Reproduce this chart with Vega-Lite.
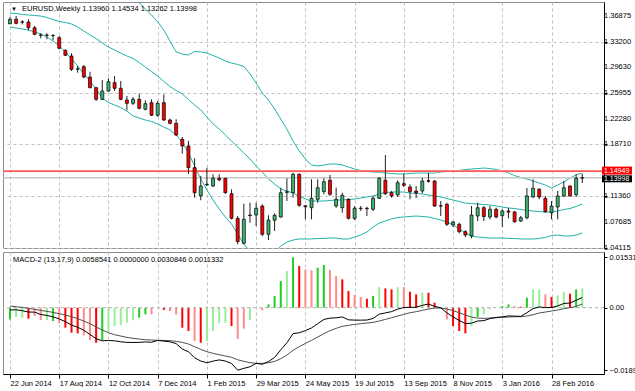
{
"$schema": "https://vega.github.io/schema/vega-lite/v6.json",
"background": "#ffffff",
"padding": {"left": 1, "top": 1, "right": 0, "bottom": 0},
"spacing": 4,
"bounds": "flush",
"config": {
  "view": {"stroke": "#8c8c8c", "strokeWidth": 1},
  "font": "Liberation Sans",
  "axis": {"labelFont": "Liberation Sans", "labelFontSize": 7.5, "labelColor": "#000000", "domainColor": "#000000", "tickColor": "#000000", "tickSize": 3, "title": null, "labelOverlap": false}
},
"datasets": {
  "axisLabels": [
    {"p": 1.36875, "t": "1.36875"}, {"p": 1.332, "t": "1.33200"}, {"p": 1.2963, "t": "1.29630"}, {"p": 1.25955, "t": "1.25955"},
    {"p": 1.2228, "t": "1.22280"}, {"p": 1.1871, "t": "1.18710"}, {"p": 1.1136, "t": "1.11360"}, {"p": 1.07685, "t": "1.07685"}, {"p": 1.04115, "t": "1.04115"}
  ]
},
"data": {"values": [
{"d":"2014-06-22","o":1.3579,"h":1.3673,"l":1.3570,"c":1.3641,"bu":1.3942,"bm":1.3730,"bl":1.3532,"m":-0.00068,"s":0.00051,"hi":-0.00355,"hc":"G"},
{"d":"2014-06-29","o":1.3641,"h":1.3688,"l":1.3570,"c":1.3584,"bu":1.3942,"bm":1.3723,"bl":1.3518,"m":-0.00064,"s":0.00030,"hi":-0.00284,"hc":"g"},
{"d":"2014-07-06","o":1.3600,"h":1.3627,"l":1.3570,"c":1.3605,"bu":1.3935,"bm":1.3709,"bl":1.3504,"m":-0.00091,"s":0.00010,"hi":-0.00304,"hc":"g"},
{"d":"2014-07-13","o":1.3603,"h":1.3641,"l":1.3485,"c":1.3522,"bu":1.3928,"bm":1.3702,"bl":1.3490,"m":-0.00132,"s":-0.00020,"hi":-0.00334,"hc":"R"},
{"d":"2014-07-20","o":1.3522,"h":1.3546,"l":1.3415,"c":1.3429,"bu":1.3928,"bm":1.3695,"bl":1.3461,"m":-0.00135,"s":-0.00051,"hi":-0.00253,"hc":"r"},
{"d":"2014-07-27","o":1.3420,"h":1.3443,"l":1.3372,"c":1.3415,"bu":1.3942,"bm":1.3687,"bl":1.3433,"m":-0.00206,"s":-0.00081,"hi":-0.00375,"hc":"r"},
{"d":"2014-08-03","o":1.3419,"h":1.3443,"l":1.3358,"c":1.3415,"bu":1.3956,"bm":1.3666,"bl":1.3391,"m":-0.00236,"s":-0.00111,"hi":-0.00375,"hc":"g"},
{"d":"2014-08-10","o":1.3413,"h":1.3429,"l":1.3344,"c":1.3410,"bu":1.3970,"bm":1.3638,"bl":1.3334,"m":-0.00277,"s":-0.00142,"hi":-0.00405,"hc":"G"},
{"d":"2014-08-17","o":1.3381,"h":1.3405,"l":1.3217,"c":1.3231,"bu":1.3984,"bm":1.3610,"bl":1.3263,"m":-0.00341,"s":-0.00182,"hi":-0.00476,"hc":"r"},
{"d":"2014-08-24","o":1.3203,"h":1.3217,"l":1.3122,"c":1.3132,"bu":1.3999,"bm":1.3596,"bl":1.3179,"m":-0.00425,"s":-0.00223,"hi":-0.00608,"hc":"R"},
{"d":"2014-08-31","o":1.3122,"h":1.3160,"l":1.2910,"c":1.2934,"bu":1.4013,"bm":1.3574,"bl":1.3080,"m":-0.00527,"s":-0.00274,"hi":-0.00760,"hc":"R"},
{"d":"2014-09-07","o":1.2936,"h":1.2981,"l":1.2886,"c":1.2940,"bu":1.4027,"bm":1.3532,"bl":1.2981,"m":-0.00595,"s":-0.00334,"hi":-0.00780,"hc":"R"},
{"d":"2014-09-14","o":1.2971,"h":1.2995,"l":1.2807,"c":1.2825,"bu":1.4041,"bm":1.3475,"bl":1.2867,"m":-0.00686,"s":-0.00405,"hi":-0.00841,"hc":"r"},
{"d":"2014-09-21","o":1.2825,"h":1.2900,"l":1.2665,"c":1.2674,"bu":1.4041,"bm":1.3419,"bl":1.2769,"m":-0.00813,"s":-0.00486,"hi":-0.00983,"hc":"r"},
{"d":"2014-09-28","o":1.2674,"h":1.2684,"l":1.2486,"c":1.2510,"bu":1.4027,"bm":1.3369,"bl":1.2655,"m":-0.00942,"s":-0.00588,"hi":-0.01064,"hc":"R"},
{"d":"2014-10-05","o":1.2510,"h":1.2783,"l":1.2500,"c":1.2627,"bu":1.4013,"bm":1.3306,"bl":1.2528,"m":-0.01006,"s":-0.00679,"hi":-0.00983,"hc":"G"},
{"d":"2014-10-12","o":1.2627,"h":1.2807,"l":1.2617,"c":1.2759,"bu":1.3999,"bm":1.3249,"bl":1.2465,"m":-0.00996,"s":-0.00760,"hi":-0.00709,"hc":"g"},
{"d":"2014-10-19","o":1.2745,"h":1.2839,"l":1.2627,"c":1.2665,"bu":1.3984,"bm":1.3207,"bl":1.2429,"m":-0.01006,"s":-0.00821,"hi":-0.00557,"hc":"g"},
{"d":"2014-10-26","o":1.2665,"h":1.2769,"l":1.2496,"c":1.2510,"bu":1.3970,"bm":1.3164,"bl":1.2394,"m":-0.01036,"s":-0.00861,"hi":-0.00527,"hc":"g"},
{"d":"2014-11-02","o":1.2500,"h":1.2557,"l":1.2354,"c":1.2453,"bu":1.3956,"bm":1.3122,"bl":1.2344,"m":-0.01054,"s":-0.00902,"hi":-0.00456,"hc":"g"},
{"d":"2014-11-09","o":1.2453,"h":1.2542,"l":1.2429,"c":1.2510,"bu":1.3928,"bm":1.3087,"bl":1.2274,"m":-0.01057,"s":-0.00932,"hi":-0.00375,"hc":"g"},
{"d":"2014-11-16","o":1.2510,"h":1.2589,"l":1.2368,"c":1.2383,"bu":1.3878,"bm":1.3030,"bl":1.2245,"m":-0.01054,"s":-0.00952,"hi":-0.00304,"hc":"G"},
{"d":"2014-11-23","o":1.2368,"h":1.2496,"l":1.2354,"c":1.2448,"bu":1.3786,"bm":1.2966,"bl":1.2217,"m":-0.01040,"s":-0.00972,"hi":-0.00203,"hc":"G"},
{"d":"2014-11-30","o":1.2462,"h":1.2510,"l":1.2274,"c":1.2284,"bu":1.3702,"bm":1.2903,"bl":1.2196,"m":-0.01050,"s":-0.00983,"hi":-0.00203,"hc":"r"},
{"d":"2014-12-07","o":1.2284,"h":1.2486,"l":1.2264,"c":1.2453,"bu":1.3603,"bm":1.2839,"bl":1.2161,"m":-0.00993,"s":-0.00993,"hi":0.0,"hc":"g"},
{"d":"2014-12-14","o":1.2462,"h":1.2580,"l":1.2203,"c":1.2217,"bu":1.3490,"bm":1.2762,"bl":1.2118,"m":-0.01016,"s":-0.00993,"hi":-0.00071,"hc":"R"},
{"d":"2014-12-21","o":1.2217,"h":1.2236,"l":1.2156,"c":1.2170,"bu":1.3334,"bm":1.2691,"bl":1.2076,"m":-0.01036,"s":-0.01003,"hi":-0.00101,"hc":"r"},
{"d":"2014-12-28","o":1.2170,"h":1.2227,"l":1.1991,"c":1.2005,"bu":1.3179,"bm":1.2634,"bl":1.2005,"m":-0.01091,"s":-0.01023,"hi":-0.00203,"hc":"r"},
{"d":"2015-01-04","o":1.1944,"h":1.1977,"l":1.1741,"c":1.1850,"bu":1.3150,"bm":1.2585,"bl":1.1906,"m":-0.01256,"s":-0.01054,"hi":-0.00608,"hc":"R"},
{"d":"2015-01-11","o":1.1850,"h":1.1920,"l":1.1454,"c":1.1543,"bu":1.3136,"bm":1.2507,"bl":1.1751,"m":-0.01340,"s":-0.01104,"hi":-0.00709,"hc":"R"},
{"d":"2015-01-18","o":1.1543,"h":1.1676,"l":1.1119,"c":1.1189,"bu":1.3186,"bm":1.2429,"bl":1.1567,"m":-0.01523,"s":-0.01185,"hi":-0.01013,"hc":"r"},
{"d":"2015-01-25","o":1.1143,"h":1.1425,"l":1.1082,"c":1.1284,"bu":1.3179,"bm":1.2359,"bl":1.1383,"m":-0.01621,"s":-0.01266,"hi":-0.01064,"hc":"R"},
{"d":"2015-02-01","o":1.1300,"h":1.1543,"l":1.1284,"c":1.1308,"bu":1.3164,"bm":1.2260,"bl":1.1228,"m":-0.01674,"s":-0.01337,"hi":-0.01013,"hc":"g"},
{"d":"2015-02-08","o":1.1284,"h":1.1449,"l":1.1270,"c":1.1393,"bu":1.3129,"bm":1.2161,"bl":1.1086,"m":-0.01624,"s":-0.01388,"hi":-0.00709,"hc":"g"},
{"d":"2015-02-15","o":1.1393,"h":1.1449,"l":1.1355,"c":1.1369,"bu":1.3094,"bm":1.2090,"bl":1.0959,"m":-0.01587,"s":-0.01428,"hi":-0.00476,"hc":"g"},
{"d":"2015-02-22","o":1.1393,"h":1.1401,"l":1.1175,"c":1.1189,"bu":1.3051,"bm":1.2005,"bl":1.0846,"m":-0.01621,"s":-0.01469,"hi":-0.00456,"hc":"g"},
{"d":"2015-03-01","o":1.1175,"h":1.1237,"l":1.0813,"c":1.0827,"bu":1.3023,"bm":1.1920,"bl":1.0747,"m":-0.01695,"s":-0.01509,"hi":-0.00557,"hc":"R"},
{"d":"2015-03-08","o":1.0827,"h":1.0860,"l":1.0460,"c":1.0497,"bu":1.3002,"bm":1.1835,"bl":1.0605,"m":-0.01900,"s":-0.01583,"hi":-0.00950,"hc":"r"},
{"d":"2015-03-15","o":1.0474,"h":1.1034,"l":1.0460,"c":1.0813,"bu":1.2974,"bm":1.1751,"bl":1.0464,"m":-0.01844,"s":-0.01631,"hi":-0.00638,"hc":"r"},
{"d":"2015-03-22","o":1.0866,"h":1.1048,"l":1.0765,"c":1.0874,"bu":1.2868,"bm":1.1666,"bl":1.0365,"m":-0.01796,"s":-0.01671,"hi":-0.00375,"hc":"g"},
{"d":"2015-03-29","o":1.0874,"h":1.1048,"l":1.0718,"c":1.0969,"bu":1.2740,"bm":1.1567,"bl":1.0252,"m":-0.01692,"s":-0.01692,"hi":0.0,"hc":"g"},
{"d":"2015-04-05","o":1.1001,"h":1.1025,"l":1.0577,"c":1.0601,"bu":1.2599,"bm":1.1482,"bl":1.0195,"m":-0.01719,"s":-0.01692,"hi":-0.00081,"hc":"r"},
{"d":"2015-04-12","o":1.0601,"h":1.0870,"l":1.0521,"c":1.0803,"bu":1.2500,"bm":1.1383,"bl":1.0224,"m":-0.01638,"s":-0.01671,"hi":0.00101,"hc":"G"},
{"d":"2015-04-19","o":1.0800,"h":1.0898,"l":1.0648,"c":1.0870,"bu":1.2373,"bm":1.1312,"bl":1.0337,"m":-0.01512,"s":-0.01631,"hi":0.00355,"hc":"G"},
{"d":"2015-04-26","o":1.0846,"h":1.1260,"l":1.0836,"c":1.1189,"bu":1.2231,"bm":1.1242,"bl":1.0436,"m":-0.01279,"s":-0.01550,"hi":0.00810,"hc":"G"},
{"d":"2015-05-03","o":1.1195,"h":1.1393,"l":1.1072,"c":1.1203,"bu":1.2090,"bm":1.1213,"bl":1.0492,"m":-0.01067,"s":-0.01438,"hi":0.01114,"hc":"g"},
{"d":"2015-05-10","o":1.1189,"h":1.1472,"l":1.1119,"c":1.1449,"bu":1.1920,"bm":1.1185,"bl":1.0520,"m":-0.00786,"s":-0.01297,"hi":0.015318,"hc":"G"},
{"d":"2015-05-17","o":1.1449,"h":1.1464,"l":1.0991,"c":1.1011,"bu":1.1779,"bm":1.1143,"bl":1.0535,"m":-0.00763,"s":-0.01185,"hi":0.01266,"hc":"R"},
{"d":"2015-05-24","o":1.1005,"h":1.1010,"l":1.0813,"c":1.0990,"bu":1.1666,"bm":1.1100,"bl":1.0535,"m":-0.00696,"s":-0.01084,"hi":0.01165,"hc":"r"},
{"d":"2015-05-31","o":1.0977,"h":1.1379,"l":1.0813,"c":1.1110,"bu":1.1581,"bm":1.1072,"bl":1.0535,"m":-0.00615,"s":-0.00993,"hi":0.01135,"hc":"r"},
{"d":"2015-06-07","o":1.1095,"h":1.1379,"l":1.1048,"c":1.1260,"bu":1.1567,"bm":1.1072,"bl":1.0542,"m":-0.00486,"s":-0.00891,"hi":0.01216,"hc":"G"},
{"d":"2015-06-14","o":1.1204,"h":1.1393,"l":1.1167,"c":1.1345,"bu":1.1581,"bm":1.1072,"bl":1.0542,"m":-0.00358,"s":-0.00790,"hi":0.01297,"hc":"G"},
{"d":"2015-06-21","o":1.1365,"h":1.1440,"l":1.1143,"c":1.1167,"bu":1.1595,"bm":1.1079,"bl":1.0549,"m":-0.00317,"s":-0.00699,"hi":0.01145,"hc":"r"},
{"d":"2015-06-28","o":1.1001,"h":1.1260,"l":1.0977,"c":1.1096,"bu":1.1595,"bm":1.1086,"bl":1.0549,"m":-0.00307,"s":-0.00628,"hi":0.00962,"hc":"r"},
{"d":"2015-07-05","o":1.0977,"h":1.1189,"l":1.0907,"c":1.1153,"bu":1.1581,"bm":1.1086,"bl":1.0535,"m":-0.00281,"s":-0.00567,"hi":0.00861,"hc":"R"},
{"d":"2015-07-12","o":1.1096,"h":1.1110,"l":1.0813,"c":1.0827,"bu":1.1553,"bm":1.1093,"bl":1.0535,"m":-0.00368,"s":-0.00537,"hi":0.00507,"hc":"R"},
{"d":"2015-07-19","o":1.0827,"h":1.1001,"l":1.0803,"c":1.0969,"bu":1.1524,"bm":1.1100,"bl":1.0563,"m":-0.00378,"s":-0.00507,"hi":0.00385,"hc":"r"},
{"d":"2015-07-26","o":1.0965,"h":1.1001,"l":1.0931,"c":1.0970,"bu":1.1503,"bm":1.1114,"bl":1.0591,"m":-0.00378,"s":-0.00486,"hi":0.00324,"hc":"r"},
{"d":"2015-08-02","o":1.0970,"h":1.0991,"l":1.0860,"c":1.0963,"bu":1.1489,"bm":1.1129,"bl":1.0634,"m":-0.00375,"s":-0.00466,"hi":0.00274,"hc":"R"},
{"d":"2015-08-09","o":1.0955,"h":1.1143,"l":1.0931,"c":1.1110,"bu":1.1482,"bm":1.1143,"bl":1.0704,"m":-0.00327,"s":-0.00446,"hi":0.00355,"hc":"G"},
{"d":"2015-08-16","o":1.1110,"h":1.1411,"l":1.1100,"c":1.1393,"bu":1.1475,"bm":1.1171,"bl":1.0761,"m":-0.00196,"s":-0.00405,"hi":0.00628,"hc":"g"},
{"d":"2015-08-23","o":1.1365,"h":1.1722,"l":1.1157,"c":1.1175,"bu":1.1468,"bm":1.1192,"bl":1.0789,"m":-0.00159,"s":-0.00355,"hi":0.00588,"hc":"R"},
{"d":"2015-08-30","o":1.1189,"h":1.1213,"l":1.1119,"c":1.1143,"bu":1.1461,"bm":1.1199,"bl":1.0817,"m":-0.00119,"s":-0.00304,"hi":0.00557,"hc":"R"},
{"d":"2015-09-06","o":1.1157,"h":1.1365,"l":1.1129,"c":1.1331,"bu":1.1454,"bm":1.1199,"bl":1.0839,"m":-0.00044,"s":-0.00253,"hi":0.00628,"hc":"g"},
{"d":"2015-09-13","o":1.1317,"h":1.1458,"l":1.1270,"c":1.1294,"bu":1.1454,"bm":1.1199,"bl":1.0846,"m":0.00007,"s":-0.00203,"hi":0.00628,"hc":"r"},
{"d":"2015-09-20","o":1.1270,"h":1.1308,"l":1.1096,"c":1.1204,"bu":1.1461,"bm":1.1185,"bl":1.0853,"m":0.00010,"s":-0.00152,"hi":0.00486,"hc":"R"},
{"d":"2015-09-27","o":1.1213,"h":1.1284,"l":1.1115,"c":1.1185,"bu":1.1468,"bm":1.1178,"bl":1.0860,"m":0.00013,"s":-0.00122,"hi":0.00405,"hc":"R"},
{"d":"2015-10-04","o":1.1213,"h":1.1401,"l":1.1181,"c":1.1355,"bu":1.1468,"bm":1.1171,"bl":1.0853,"m":0.00071,"s":-0.00081,"hi":0.00456,"hc":"g"},
{"d":"2015-10-11","o":1.1360,"h":1.1472,"l":1.1331,"c":1.1350,"bu":1.1468,"bm":1.1157,"bl":1.0846,"m":0.00111,"s":-0.00041,"hi":0.00456,"hc":"R"},
{"d":"2015-10-18","o":1.1355,"h":1.1365,"l":1.0987,"c":1.1001,"bu":1.1468,"bm":1.1143,"bl":1.0825,"m":0.00041,"s":-0.00010,"hi":0.00152,"hc":"R"},
{"d":"2015-10-25","o":1.1005,"h":1.1072,"l":1.0860,"c":1.1000,"bu":1.1482,"bm":1.1129,"bl":1.0803,"m":-0.00003,"s":-0.00010,"hi":0.00020,"hc":"g"},
{"d":"2015-11-01","o":1.1025,"h":1.1048,"l":1.0718,"c":1.0743,"bu":1.1489,"bm":1.1107,"bl":1.0775,"m":-0.00159,"s":-0.00041,"hi":-0.00355,"hc":"r"},
{"d":"2015-11-08","o":1.0733,"h":1.0789,"l":1.0704,"c":1.0775,"bu":1.1496,"bm":1.1086,"bl":1.0733,"m":-0.00277,"s":-0.00091,"hi":-0.00557,"hc":"R"},
{"d":"2015-11-15","o":1.0743,"h":1.0765,"l":1.0615,"c":1.0638,"bu":1.1503,"bm":1.1065,"bl":1.0676,"m":-0.00388,"s":-0.00152,"hi":-0.00709,"hc":"R"},
{"d":"2015-11-22","o":1.0638,"h":1.0658,"l":1.0563,"c":1.0591,"bu":1.1517,"bm":1.1043,"bl":1.0620,"m":-0.00483,"s":-0.00223,"hi":-0.00780,"hc":"R"},
{"d":"2015-11-29","o":1.0577,"h":1.1001,"l":1.0545,"c":1.0874,"bu":1.1524,"bm":1.1036,"bl":1.0577,"m":-0.00469,"s":-0.00284,"hi":-0.00557,"hc":"g"},
{"d":"2015-12-06","o":1.0860,"h":1.1048,"l":1.0789,"c":1.0977,"bu":1.1531,"bm":1.1029,"bl":1.0563,"m":-0.00405,"s":-0.00314,"hi":-0.00274,"hc":"G"},
{"d":"2015-12-13","o":1.0977,"h":1.1001,"l":1.0789,"c":1.0853,"bu":1.1538,"bm":1.1022,"bl":1.0556,"m":-0.00392,"s":-0.00324,"hi":-0.00203,"hc":"g"},
{"d":"2015-12-20","o":1.0846,"h":1.1001,"l":1.0813,"c":1.0955,"bu":1.1531,"bm":1.1015,"bl":1.0549,"m":-0.00331,"s":-0.00314,"hi":-0.00051,"hc":"g"},
{"d":"2015-12-27","o":1.0955,"h":1.0977,"l":1.0827,"c":1.0846,"bu":1.1517,"bm":1.1001,"bl":1.0549,"m":-0.00297,"s":-0.00304,"hi":0.00020,"hc":"g"},
{"d":"2016-01-03","o":1.0864,"h":1.0955,"l":1.0704,"c":1.0931,"bu":1.1496,"bm":1.0987,"bl":1.0549,"m":-0.00277,"s":-0.00294,"hi":0.00051,"hc":"G"},
{"d":"2016-01-10","o":1.0930,"h":1.0977,"l":1.0827,"c":1.0915,"bu":1.1468,"bm":1.0973,"bl":1.0542,"m":-0.00250,"s":-0.00284,"hi":0.00101,"hc":"G"},
{"d":"2016-01-17","o":1.0917,"h":1.0931,"l":1.0765,"c":1.0779,"bu":1.1432,"bm":1.0966,"bl":1.0542,"m":-0.00256,"s":-0.00274,"hi":0.00051,"hc":"r"},
{"d":"2016-01-24","o":1.0789,"h":1.0860,"l":1.0775,"c":1.0836,"bu":1.1404,"bm":1.0952,"bl":1.0535,"m":-0.00263,"s":-0.00274,"hi":0.00030,"hc":"R"},
{"d":"2016-01-31","o":1.0836,"h":1.1256,"l":1.0813,"c":1.1143,"bu":1.1383,"bm":1.0938,"bl":1.0535,"m":-0.00152,"s":-0.00253,"hi":0.00304,"hc":"G"},
{"d":"2016-02-07","o":1.1129,"h":1.1379,"l":1.1115,"c":1.1252,"bu":1.1355,"bm":1.0931,"bl":1.0535,"m":-0.00027,"s":-0.00213,"hi":0.00557,"hc":"g"},
{"d":"2016-02-14","o":1.1238,"h":1.1252,"l":1.1096,"c":1.1129,"bu":1.1326,"bm":1.0923,"bl":1.0542,"m":0.00023,"s":-0.00162,"hi":0.00557,"hc":"g"},
{"d":"2016-02-21","o":1.1110,"h":1.1143,"l":1.0907,"c":1.0921,"bu":1.1298,"bm":1.0916,"bl":1.0556,"m":0.00003,"s":-0.00132,"hi":0.00405,"hc":"r"},
{"d":"2016-02-28","o":1.0907,"h":1.1072,"l":1.0813,"c":1.1001,"bu":1.1256,"bm":1.0916,"bl":1.0584,"m":0.00007,"s":-0.00101,"hi":0.00324,"hc":"R"},
{"d":"2016-03-06","o":1.0987,"h":1.1213,"l":1.0813,"c":1.1143,"bu":1.1298,"bm":1.0931,"bl":1.0591,"m":0.00054,"s":-0.00071,"hi":0.00375,"hc":"g"},
{"d":"2016-03-13","o":1.1143,"h":1.1355,"l":1.1129,"c":1.1260,"bu":1.1341,"bm":1.0952,"bl":1.0577,"m":0.00129,"s":-0.00030,"hi":0.00476,"hc":"g"},
{"d":"2016-03-20","o":1.1284,"h":1.1294,"l":1.1133,"c":1.1143,"bu":1.1397,"bm":1.0966,"bl":1.0577,"m":0.00142,"s":0.0,"hi":0.00425,"hc":"R"},
{"d":"2016-03-27","o":1.1160,"h":1.1449,"l":1.1129,"c":1.1393,"bu":1.1440,"bm":1.0994,"bl":1.0591,"m":0.00226,"s":0.00041,"hi":0.00557,"hc":"G"},
{"d":"2016-04-03","o":1.1396,"h":1.14534,"l":1.13262,"c":1.13998,"bu":1.1468,"bm":1.1030,"bl":1.0620,"m":0.0030846,"s":0.0011332,"hi":0.0058541,"hc":"g"}
]},
"vconcat": [
{
  "width": 601,
  "height": 246,
  "layer": [
    {"mark": {"type": "line", "color": "#20b2aa", "strokeWidth": 1, "clip": true},
     "encoding": {
       "x": {"field": "d", "type": "temporal",
             "scale": {"type": "utc", "domain": [{"year": 2014, "month": 6, "date": 19, "hours": 18, "utc": true}, {"year": 2016, "month": 4, "date": 22, "utc": true}]},
             "axis": {"values": [
               {"year":2014,"month":6,"date":22,"utc":true},{"year":2014,"month":7,"date":20,"utc":true},{"year":2014,"month":8,"date":17,"utc":true},{"year":2014,"month":9,"date":14,"utc":true},{"year":2014,"month":10,"date":12,"utc":true},{"year":2014,"month":11,"date":9,"utc":true},{"year":2014,"month":12,"date":7,"utc":true},{"year":2015,"month":1,"date":4,"utc":true},{"year":2015,"month":2,"date":1,"utc":true},{"year":2015,"month":3,"date":1,"utc":true},{"year":2015,"month":3,"date":29,"utc":true},{"year":2015,"month":4,"date":26,"utc":true},{"year":2015,"month":5,"date":24,"utc":true},{"year":2015,"month":6,"date":21,"utc":true},{"year":2015,"month":7,"date":19,"utc":true},{"year":2015,"month":8,"date":16,"utc":true},{"year":2015,"month":9,"date":13,"utc":true},{"year":2015,"month":10,"date":11,"utc":true},{"year":2015,"month":11,"date":8,"utc":true},{"year":2015,"month":12,"date":6,"utc":true},{"year":2016,"month":1,"date":3,"utc":true},{"year":2016,"month":1,"date":31,"utc":true},{"year":2016,"month":2,"date":28,"utc":true},{"year":2016,"month":3,"date":27,"utc":true}],
               "labels": false, "ticks": false, "domain": false, "grid": true, "gridColor": "#c0c0c0", "gridDash": [3, 3], "title": null}},
       "y": {"field": "bu", "type": "quantitative",
             "scale": {"domain": [1.04075, 1.38855], "nice": false, "zero": false},
             "axis": {"orient": "right", "values": [1.04115, 1.07685, 1.1136, 1.15035, 1.1871, 1.2228, 1.25955, 1.2963, 1.332, 1.36875],
                      "labels": false, "grid": true, "gridColor": "#c0c0c0", "gridDash": [3, 3], "tickSize": 3, "title": null}}
     }},
    {"mark": {"type": "line", "color": "#20b2aa", "strokeWidth": 1, "clip": true},
     "encoding": {"x": {"field": "d", "type": "temporal"}, "y": {"field": "bm", "type": "quantitative"}}},
    {"mark": {"type": "line", "color": "#20b2aa", "strokeWidth": 1, "clip": true},
     "encoding": {"x": {"field": "d", "type": "temporal"}, "y": {"field": "bl", "type": "quantitative"}}},
    {"data": {"values": [{"price": 1.14949}]},
     "mark": {"type": "rule", "color": "#ffd8d8", "strokeWidth": 2.2},
     "encoding": {"y": {"field": "price", "type": "quantitative"}}},
    {"data": {"values": [{"price": 1.14949}]},
     "mark": {"type": "rule", "color": "#ff0000", "strokeWidth": 1},
     "encoding": {"y": {"field": "price", "type": "quantitative"}}},
    {"data": {"values": [{"price": 1.13998}]},
     "mark": {"type": "rule", "color": "#c8c8c8", "strokeWidth": 1.5},
     "encoding": {"y": {"field": "price", "type": "quantitative"}}},
    {"mark": {"type": "rule", "color": "#202020", "strokeWidth": 1, "clip": true},
     "encoding": {"x": {"field": "d", "type": "temporal"}, "y": {"field": "l", "type": "quantitative"}, "y2": {"field": "h"}}},
    {"mark": {"type": "bar", "size": 3, "stroke": "#000000", "strokeWidth": 0.7, "clip": true},
     "encoding": {"x": {"field": "d", "type": "temporal"}, "y": {"field": "o", "type": "quantitative"}, "y2": {"field": "c"},
                  "fill": {"condition": {"test": "datum.c > datum.o", "value": "#3cb371"}, "value": "#ff0000"}}},
    {"data": {"name": "axisLabels"},
     "mark": {"type": "text", "align": "left", "baseline": "middle", "dx": 5, "fontSize": 7.5, "color": "#000000"},
     "encoding": {"x": {"datum": {"year": 2016, "month": 4, "date": 22, "utc": true}, "type": "temporal"}, "y": {"field": "p", "type": "quantitative"}, "text": {"field": "t"}}},
    {"data": {"values": [{"label": "▼"}]},
     "mark": {"type": "text", "align": "left", "baseline": "middle", "dx": 3, "fontSize": 6, "color": "#000000"},
     "encoding": {"x": {"datum": {"year": 2014, "month": 6, "date": 19, "hours": 18, "utc": true}, "type": "temporal"}, "y": {"datum": 1.3793}, "text": {"field": "label"}}},
    {"data": {"values": [{"label": "EURUSD,Weekly  1.13960 1.14534 1.13262 1.13998"}]},
     "mark": {"type": "text", "align": "left", "baseline": "middle", "dx": 14, "fontSize": 7.5, "color": "#000000"},
     "encoding": {"x": {"datum": {"year": 2014, "month": 6, "date": 19, "hours": 18, "utc": true}, "type": "temporal"}, "y": {"datum": 1.3793}, "text": {"field": "label"}}},
    {"data": {"values": [{"price": 1.13998, "label": "1.13998"}]},
     "mark": {"type": "tick", "orient": "horizontal", "size": 30, "thickness": 7, "color": "#000000", "opacity": 1, "xOffset": 18, "yOffset": 1},
     "encoding": {"x": {"datum": {"year": 2016, "month": 4, "date": 22, "utc": true}, "type": "temporal"}, "y": {"field": "price", "type": "quantitative"}}},
    {"data": {"values": [{"price": 1.13998, "label": "1.13998"}]},
     "mark": {"type": "text", "align": "left", "baseline": "middle", "dx": 5, "dy": 1, "fontSize": 7, "color": "#ffffff"},
     "encoding": {"x": {"datum": {"year": 2016, "month": 4, "date": 22, "utc": true}, "type": "temporal"}, "y": {"field": "price", "type": "quantitative"}, "text": {"field": "label"}}},
    {"data": {"values": [{"price": 1.14949, "label": "1.14949"}]},
     "mark": {"type": "tick", "orient": "horizontal", "size": 30, "thickness": 8, "color": "#ff0000", "opacity": 1, "xOffset": 18, "yOffset": -0.5},
     "encoding": {"x": {"datum": {"year": 2016, "month": 4, "date": 22, "utc": true}, "type": "temporal"}, "y": {"field": "price", "type": "quantitative"}}},
    {"data": {"values": [{"price": 1.14949, "label": "1.14949"}]},
     "mark": {"type": "text", "align": "left", "baseline": "middle", "dx": 5, "dy": -0.5, "fontSize": 7, "color": "#ffffff"},
     "encoding": {"x": {"datum": {"year": 2016, "month": 4, "date": 22, "utc": true}, "type": "temporal"}, "y": {"field": "price", "type": "quantitative"}, "text": {"field": "label"}}}
  ]
},
{
  "width": 601,
  "height": 122,
  "layer": [
    {"mark": {"type": "bar", "size": 2, "clip": true},
     "encoding": {
       "x": {"field": "d", "type": "temporal",
             "scale": {"type": "utc", "domain": [{"year": 2014, "month": 6, "date": 19, "hours": 18, "utc": true}, {"year": 2016, "month": 4, "date": 22, "utc": true}]},
             "axis": {"values": [
               {"year":2014,"month":6,"date":22,"utc":true},{"year":2014,"month":7,"date":20,"utc":true},{"year":2014,"month":8,"date":17,"utc":true},{"year":2014,"month":9,"date":14,"utc":true},{"year":2014,"month":10,"date":12,"utc":true},{"year":2014,"month":11,"date":9,"utc":true},{"year":2014,"month":12,"date":7,"utc":true},{"year":2015,"month":1,"date":4,"utc":true},{"year":2015,"month":2,"date":1,"utc":true},{"year":2015,"month":3,"date":1,"utc":true},{"year":2015,"month":3,"date":29,"utc":true},{"year":2015,"month":4,"date":26,"utc":true},{"year":2015,"month":5,"date":24,"utc":true},{"year":2015,"month":6,"date":21,"utc":true},{"year":2015,"month":7,"date":19,"utc":true},{"year":2015,"month":8,"date":16,"utc":true},{"year":2015,"month":9,"date":13,"utc":true},{"year":2015,"month":10,"date":11,"utc":true},{"year":2015,"month":11,"date":8,"utc":true},{"year":2015,"month":12,"date":6,"utc":true},{"year":2016,"month":1,"date":3,"utc":true},{"year":2016,"month":1,"date":31,"utc":true},{"year":2016,"month":2,"date":28,"utc":true},{"year":2016,"month":3,"date":27,"utc":true}],
               "labelExpr": "round((datum.value - utc(2014, 5, 22)) / 604800000) % 8 == 0 ? utcFormat(datum.value, '%-d %b %Y') : ''",
               "tickOpacity": {"condition": {"test": "round((datum.value - utc(2014, 5, 22)) / 604800000) % 8 == 0", "value": 1}, "value": 0},
               "grid": true, "gridColor": "#c0c0c0", "gridDash": [3, 3], "domain": true, "tickSize": 4,
               "labelAlign": "left", "labelBaseline": "top", "labelPadding": 1, "labelFlush": false, "labelOverlap": false, "labelBound": false, "title": null}},
       "y": {"field": "hi", "type": "quantitative",
             "scale": {"domain": [-0.02015, 0.01693], "nice": false, "zero": false},
             "axis": {"orient": "right", "values": [0.015318, 0, -0.018997],
                      "labelExpr": "datum.value == 0 ? '0.00' : format(datum.value, '.6f')",
                      "grid": false, "labelAlign": "left", "labelBaseline": "middle", "labelPadding": 2, "tickSize": 3, "labelFlush": false, "labelOverlap": false, "title": null}},
       "y2": {"datum": 0},
       "color": {"field": "hc", "type": "nominal", "scale": {"domain": ["G", "g", "R", "r"], "range": ["#22cc22", "#98ee98", "#ff0000", "#ff8c8c"]}, "legend": null}
     }},
    {"data": {"values": [{"z": 0}]},
     "mark": {"type": "rule", "color": "#b0b0b0", "strokeDash": [3, 3], "strokeWidth": 1},
     "encoding": {"y": {"field": "z", "type": "quantitative"}}},
    {"mark": {"type": "line", "color": "#505050", "strokeWidth": 1, "clip": true},
     "encoding": {"x": {"field": "d", "type": "temporal"}, "y": {"field": "s", "type": "quantitative"}}},
    {"mark": {"type": "line", "color": "#000000", "strokeWidth": 1, "clip": true},
     "encoding": {"x": {"field": "d", "type": "temporal"}, "y": {"field": "m", "type": "quantitative"}}},
    {"data": {"values": [{"label": "MACD-2 (13,17,9) 0.0058541 0.0000000 0.0030846 0.0011332"}]},
     "mark": {"type": "text", "align": "left", "baseline": "middle", "dx": 5, "fontSize": 7.5, "color": "#000000"},
     "encoding": {"x": {"datum": {"year": 2014, "month": 6, "date": 19, "hours": 18, "utc": true}, "type": "temporal"}, "y": {"datum": 0.0145}, "text": {"field": "label"}}}
  ]
}
]
}
